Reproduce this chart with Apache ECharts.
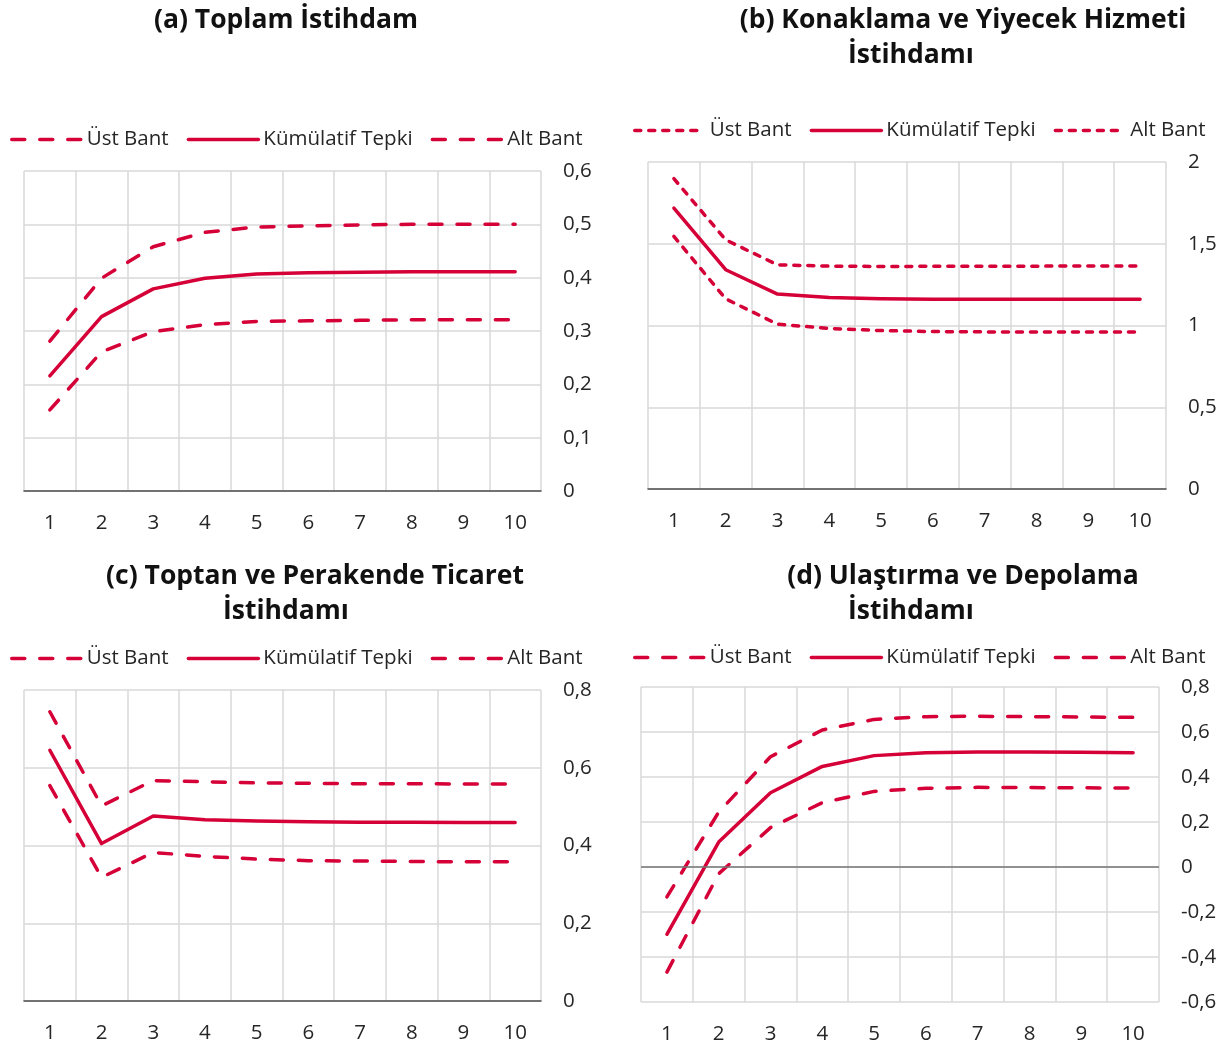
<!DOCTYPE html>
<html>
<head>
<meta charset="utf-8">
<script src="https://cdn.jsdelivr.net/npm/echarts@6/dist/echarts.min.js"></script>
<style>
  html, body { margin:0; padding:0; background:#fff; }
  .p { position:absolute; }
</style>
</head>
<body>
<div id="a" class="p" style="left:0;top:0;width:614px;height:545px"></div>
<div id="b" class="p" style="left:614px;top:0;width:615px;height:545px"></div>
<div id="c" class="p" style="left:0;top:545px;width:614px;height:505px"></div>
<div id="d" class="p" style="left:614px;top:545px;width:615px;height:505px"></div>
<script>
const categories = ['1','2','3','4','5','6','7','8','9','10'];
const seriesNames = ['Üst Bant','Kümülatif Tepki','Alt Bant'];

// (a) Toplam İstihdam
const aUst = [0.281, 0.399, 0.458, 0.485, 0.495, 0.497, 0.499, 0.500, 0.500, 0.500];
const aKum = [0.216, 0.327, 0.379, 0.399, 0.407, 0.409, 0.410, 0.411, 0.411, 0.411];
const aAlt = [0.152, 0.261, 0.299, 0.312, 0.318, 0.319, 0.320, 0.321, 0.321, 0.321];
// (b) Konaklama ve Yiyecek Hizmeti İstihdamı
const bUst = [1.898, 1.524, 1.371, 1.363, 1.361, 1.362, 1.363, 1.363, 1.364, 1.364];
const bKum = [1.718, 1.341, 1.192, 1.171, 1.163, 1.161, 1.161, 1.161, 1.161, 1.161];
const bAlt = [1.545, 1.163, 1.008, 0.982, 0.969, 0.963, 0.961, 0.961, 0.961, 0.961];
// (c) Toptan ve Perakende Ticaret İstihdamı
const cUst = [0.744, 0.502, 0.567, 0.564, 0.561, 0.560, 0.559, 0.559, 0.558, 0.558];
const cKum = [0.645, 0.405, 0.476, 0.466, 0.463, 0.461, 0.460, 0.460, 0.459, 0.459];
const cAlt = [0.554, 0.318, 0.382, 0.372, 0.365, 0.361, 0.360, 0.359, 0.358, 0.358];
// (d) Ulaştırma ve Depolama İstihdamı
const dUst = [-0.133, 0.244, 0.490, 0.609, 0.656, 0.668, 0.670, 0.668, 0.667, 0.665];
const dKum = [-0.299, 0.111, 0.330, 0.447, 0.495, 0.508, 0.511, 0.511, 0.510, 0.508];
const dAlt = [-0.467, -0.030, 0.175, 0.286, 0.336, 0.350, 0.354, 0.353, 0.352, 0.351];

const RED = '#D50037';
const FONT = '"Open Sans", "Noto Sans", sans-serif';
const TXT = '#262626';
const LW = 3.5;

function fmt(v) {
  const r = Math.round(v * 10) / 10;
  return String(r).replace('.', ',');
}

function build(cfg) {
  const dash = cfg.dash;
  const mk = (name, data, dashed) => ({
    name, type: 'line', data, showSymbol: false, symbol: 'none', smooth: false,
    lineStyle: { color: RED, width: LW, type: dashed ? dash : 'solid', cap: 'round', join: 'round' },
    itemStyle: { color: RED },
    emphasis: { disabled: true },
    silent: true, animation: false
  });
  const series = [
    mk(seriesNames[0], cfg.ust, true),
    mk(seriesNames[1], cfg.kum, false),
    mk(seriesNames[2], cfg.alt, true)
  ];
  if (cfg.zeroLine) {
    series[1].markLine = {
      silent: true, symbol: 'none', animation: false,
      label: { show: false },
      lineStyle: { color: '#767676', width: 1.5, type: 'solid' },
      data: [{ yAxis: 0 }]
    };
  }
  const graphics = cfg.titles.map(t => ({
    type: 'text', x: t.x, y: t.y, silent: true,
    style: { text: t.text, fontSize: 26.5, fontWeight: 'bold', fontFamily: FONT, fill: '#111',
             align: 'center', verticalAlign: 'middle' }
  }));
  return {
    animation: false,
    textStyle: { fontFamily: FONT },
    graphic: graphics,
    legend: {
      data: seriesNames, left: cfg.legendLeft, top: cfg.legendTop,
      itemWidth: 70, itemHeight: 14, itemGap: 18, selectedMode: false,
      itemStyle: { opacity: 0 },
      lineStyle: { width: LW },
      textStyle: { fontSize: 20.5, color: TXT, fontFamily: FONT }
    },
    grid: { left: cfg.grid[0], top: cfg.grid[1], width: cfg.grid[2], height: cfg.grid[3], containLabel: false },
    xAxis: {
      type: 'category', data: categories, boundaryGap: true,
      axisLine: { show: !cfg.zeroLine, onZero: false, lineStyle: { color: '#4d4d4d', width: 1.5 } },
      axisTick: { show: false },
      axisLabel: { fontSize: 20.5, color: TXT, margin: 22, fontFamily: FONT },
      splitLine: { show: true, lineStyle: { color: '#d9d9d9', width: 1.5 } }
    },
    yAxis: {
      type: 'value', position: 'right', min: cfg.min, max: cfg.max, interval: cfg.interval,
      axisLine: { show: false }, axisTick: { show: false },
      axisLabel: { fontSize: 20.5, color: TXT, margin: 22, formatter: fmt, fontFamily: FONT },
      splitLine: { show: true, lineStyle: { color: '#d9d9d9', width: 1.5 } }
    },
    series
  };
}

const longDash = [13, 15];
const shortDash = [6, 8];

const panels = [
  { id: 'a', ust: aUst, kum: aKum, alt: aAlt, min: 0, max: 0.6, interval: 0.1, dash: longDash,
    grid: [24, 171, 517, 320], legendLeft: 5, legendTop: 124,
    titles: [{ text: '(a) Toplam İstihdam', x: 286, y: 20 }] },
  { id: 'b', ust: bUst, kum: bKum, alt: bAlt, min: 0, max: 2, interval: 0.5, dash: shortDash,
    grid: [34, 162, 518, 327], legendLeft: 14, legendTop: 115,
    titles: [{ text: '(b) Konaklama ve Yiyecek Hizmeti', x: 349, y: 20 }, { text: 'İstihdamı', x: 297, y: 55 }] },
  { id: 'c', ust: cUst, kum: cKum, alt: cAlt, min: 0, max: 0.8, interval: 0.2, dash: longDash,
    grid: [24, 145, 517, 311], legendLeft: 5, legendTop: 98,
    titles: [{ text: '(c) Toptan ve Perakende Ticaret', x: 315, y: 31 }, { text: 'İstihdamı', x: 286, y: 66 }] },
  { id: 'd', ust: dUst, kum: dKum, alt: dAlt, min: -0.6, max: 0.8, interval: 0.2, dash: longDash, zeroLine: true,
    grid: [27, 142, 518, 315], legendLeft: 14, legendTop: 97,
    titles: [{ text: '(d) Ulaştırma ve Depolama', x: 349, y: 31 }, { text: 'İstihdamı', x: 297, y: 66 }] }
];

panels.forEach(p => {
  const chart = echarts.init(document.getElementById(p.id), null, { renderer: 'canvas' });
  chart.setOption(build(p));
});
</script>
</body>
</html>
